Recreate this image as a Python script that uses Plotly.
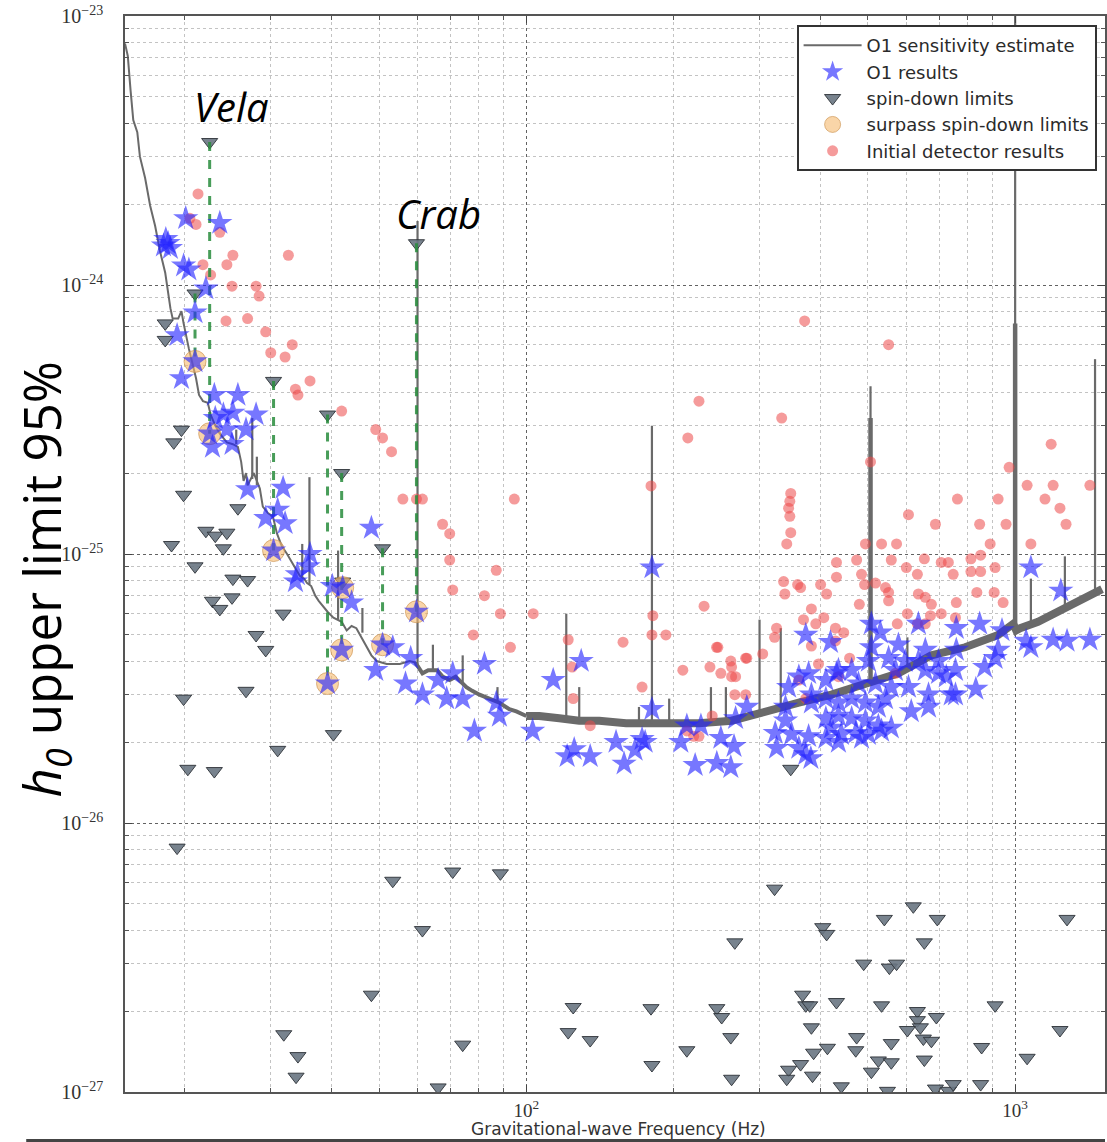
import math
import plotly.graph_objects as go

# ---------------- O1 sensitivity estimate (broadband floor) ----------------
sens_freq = [15.1, 15.3, 15.5, 15.7, 16.0, 16.2, 16.6, 17.0, 17.4, 17.8, 18.25, 18.4, 18.7, 18.9,
             19.4, 19.7, 19.9, 20.4, 20.7, 21.1, 21.4, 21.8, 22.3, 22.6, 23.1, 23.6, 24.4, 25.1,
             25.7, 26.1, 26.4, 26.7, 26.9, 27.7, 28.5, 28.9, 29.6, 30.3, 30.9, 31.6, 32.4, 33.2,
             34.0, 34.4, 35.1, 35.6, 36.3, 37.0, 37.6, 38.3, 39.2, 40.3, 41.9, 42.9, 43.9, 44.9,
             47.1, 48.2, 49.4, 51.8, 54.0, 55.1, 57.7, 59.3, 60.5, 61.3, 63.0, 65.7, 67.4, 69.7,
             71.7, 75.4, 77.5, 80.2, 84.0, 88.1, 92.3, 95.4,
             100, 106.3, 116.8, 128.3, 141, 160, 193, 225.5, 263, 285, 299, 328, 361, 421, 494,
             577, 674, 790, 923, 991, 1005, 1024, 1114, 1224, 1344, 1442, 1506]
sens_h0 = [7.9e-24, 7.1e-24, 5.3e-24, 4.1e-24, 3.7e-24, 3.0e-24, 2.5e-24, 1.97e-24, 1.66e-24, 1.34e-24,
           1.11e-24, 1.0e-24, 8.2e-25, 7.5e-25, 7.5e-25, 8.0e-25, 7.2e-25, 5.8e-25, 5.2e-25, 4.5e-25,
           3.9e-25, 3.7e-25, 3.65e-25, 3.3e-25, 3.0e-25, 2.8e-25, 2.6e-25, 2.56e-25, 2.5e-25, 2.2e-25,
           1.87e-25, 2.0e-25, 1.8e-25, 2.0e-25, 1.75e-25, 1.5e-25, 1.42e-25, 1.38e-25, 1.19e-25,
           1.07e-25, 1.0e-25, 9.3e-26, 8.6e-26, 8.3e-26, 8.1e-26, 7.8e-26, 7.6e-26, 7.0e-26, 6.7e-26,
           6.4e-26, 6.1e-26, 5.8e-26, 5.6e-26, 5.2e-26, 5.4e-26, 5.3e-26, 4.5e-26, 4.2e-26, 4.0e-26,
           3.9e-26, 3.9e-26, 3.9e-26, 4.0e-26, 3.95e-26, 3.7e-26, 3.6e-26, 3.7e-26, 3.7e-26, 3.5e-26,
           3.4e-26, 3.5e-26, 3.2e-26, 3.1e-26, 3.0e-26, 2.9e-26, 2.8e-26, 2.65e-26, 2.6e-26,
           2.5e-26, 2.5e-26, 2.45e-26, 2.4e-26, 2.4e-26, 2.35e-26, 2.35e-26, 2.35e-26, 2.4e-26, 2.5e-26,
           2.54e-26, 2.7e-26, 2.8e-26, 3.0e-26, 3.3e-26, 3.6e-26, 4.2e-26, 4.5e-26, 5.0e-26, 5.5e-26,
           5.2e-26, 5.3e-26, 5.6e-26, 6.1e-26, 6.7e-26, 7.2e-26, 7.4e-26]

# narrow instrumental lines: frequency, floor level, peak level
line_freq = [25.5, 27.5, 28.1, 34.8, 36.0, 41.2, 46.2, 59.9, 64.4, 74.1, 87.3, 120.7, 128.3, 170,
             180.7, 196, 238.6, 256, 300, 331.5, 506, 602, 1000, 1077, 1264, 1457]
line_floor = [2.56e-25, 1.9e-25, 1.8e-25, 8.2e-26, 7.7e-26, 5.7e-26, 5.1e-26, 3.9e-26, 3.7e-26,
              3.3e-26, 2.8e-26, 2.45e-26, 2.4e-26, 2.35e-26, 2.35e-26, 2.35e-26, 2.35e-26, 2.4e-26,
              2.55e-26, 2.7e-26, 3.3e-26, 3.7e-26, 5.5e-26, 5.4e-26, 6.3e-26, 7.2e-26]
line_peak = [2.9e-25, 3.2e-25, 2.3e-25, 1.09e-25, 1.93e-25, 1.03e-25, 6.3e-26, 1.73e-24, 4.6e-26,
             4.2e-26, 3.2e-26, 6.0e-26, 3.2e-26, 2.7e-26, 3.0e-25, 2.9e-26, 3.2e-26, 3.2e-26,
             5.7e-26, 5.3e-26, 4.2e-25, 4.9e-26, 1.0e-23, 8.1e-26, 9.8e-26, 5.3e-25]
# the strongest lines are broadened near their base
wide_line_freq = [506, 1000]
wide_line_floor = [3.3e-26, 5.5e-26]
wide_line_peak = [3.2e-25, 7.2e-25]

# ---------------- O1 upper limits ----------------
o1_freq = [20.1, 23.6, 18.3, 18.7, 18.1, 18.5, 19.9, 20.4, 22.1, 21.0, 19.3, 19.7, 23.0, 25.7, 23.1,
           24.0, 25.1, 28.0, 24.4, 26.7, 22.8, 25.0, 26.9, 31.8, 31.0, 29.3, 32.1, 48.2, 36.1, 35.8,
           34.0, 33.7, 40.1, 43.9, 53.3, 58.0, 49.2, 56.6, 61.3, 66.0, 68.7, 70.7, 74.1, 82.1, 78.3,
           86.8, 88.1, 103, 113.5, 129.5, 125.3, 121.2, 135.1, 152.6, 158.5, 166.9, 172.5, 180.7,
           180.7, 175, 207, 213, 227.6, 221.5, 245.3, 262, 250, 266, 268, 282.5, 323, 325, 344, 339,
           373, 419, 378, 373, 382,
           361, 378, 410, 431, 463, 501, 508, 530, 551, 577, 569, 634, 634, 655, 758, 758, 755, 740,
           665, 613, 665, 605, 558, 518, 543, 494, 463, 435, 410, 383, 410, 435, 463, 494, 525, 558,
           525, 421, 441, 472, 501, 533, 410, 435, 485, 339, 349, 361, 383, 435, 478, 508, 596, 655,
           697, 697,
           846, 940, 1077, 1240, 1053, 1077, 1196, 1277, 831, 723, 755, 923, 910, 866, 1422]
o1_h0 = [1.77e-24, 1.70e-24, 1.48e-24, 1.37e-24, 1.40e-24, 1.43e-24, 1.18e-24, 1.14e-24, 9.7e-25,
         7.9e-25, 6.5e-25, 4.5e-25, 3.9e-25, 3.9e-25, 3.2e-25, 3.3e-25, 3.35e-25, 3.3e-25, 2.9e-25,
         2.9e-25, 2.5e-25, 2.56e-25, 1.74e-25, 1.76e-25, 1.46e-25, 1.36e-25, 1.3e-25, 1.25e-25,
         1.0e-25, 9.0e-26, 8.4e-26, 7.9e-26, 7.6e-26, 6.6e-26, 4.5e-26, 4.1e-26, 3.7e-26, 3.3e-26,
         3.0e-26, 3.4e-26, 2.9e-26, 3.6e-26, 2.9e-26, 3.9e-26, 2.2e-26, 2.8e-26, 2.5e-26, 2.2e-26,
         3.4e-26, 4.0e-26, 1.88e-26, 1.77e-26, 1.77e-26, 2.0e-26, 1.66e-26, 1.87e-26, 2.05e-26,
         8.9e-26, 2.65e-26, 2.0e-26, 2.0e-26, 2.3e-26, 2.3e-26, 1.64e-26, 1.67e-26, 1.61e-26,
         2.07e-26, 1.93e-26, 2.45e-26, 2.7e-26, 2.16e-26, 1.9e-26, 3.2e-26, 2.7e-26, 5.0e-26,
         4.7e-26, 2.1e-26, 1.8e-26, 1.74e-26,
         3.5e-26, 3.6e-26, 3.4e-26, 3.6e-26, 3.7e-26, 4.0e-26, 5.5e-26, 5.1e-26, 4.1e-26, 4.6e-26,
         3.7e-26, 5.5e-26, 4.0e-26, 3.7e-26, 5.3e-26, 4.4e-26, 3.7e-26, 3.0e-26, 2.7e-26, 2.6e-26,
         3.0e-26, 3.2e-26, 3.2e-26, 3.3e-26, 2.9e-26, 2.8e-26, 2.9e-26, 2.8e-26, 2.9e-26, 3.0e-26,
         2.45e-26, 2.5e-26, 2.45e-26, 2.4e-26, 2.3e-26, 2.26e-26, 2.7e-26, 2.26e-26, 2.14e-26,
         2.16e-26, 2.14e-26, 2.2e-26, 2.07e-26, 2.0e-26, 2.07e-26, 2.4e-26, 2.14e-26, 1.9e-26,
         2.8e-26, 3.7e-26, 3.3e-26, 4.5e-26, 4.0e-26, 4.4e-26, 4.0e-26, 3.6e-26,
         5.5e-26, 5.2e-26, 8.9e-26, 7.3e-26, 4.75e-26, 4.5e-26, 4.8e-26, 4.75e-26, 3.15e-26,
         3.5e-26, 3.0e-26, 4.4e-26, 4.1e-26, 3.8e-26, 4.8e-26]

# ---------------- spin-down limits ----------------
spindown_freq = [18.25, 18.25, 19.7, 19.0, 19.9, 25.7, 22.1, 23.1, 24.4, 24.0, 18.8, 21.0, 25.1, 26.9,
                 22.8, 25.0, 23.6, 31.8, 28.0, 29.3, 26.7, 19.9, 40.3, 31.0, 20.3, 23.0,
                 19.3, 53.3, 70.7, 88.5, 61.3, 48.2, 31.9, 34.1, 33.8, 74.1, 66.0, 124.7, 121.8, 135.1,
                 322, 267, 179.9, 180.7, 213, 245.3, 251, 262, 263, 404, 411.5, 540, 619, 693, 652, 490,
                 553, 572, 367.5, 373, 380, 383, 431, 533, 631, 631, 640, 690, 602, 474, 558, 649, 674,
                 910, 854, 1235, 1277, 1058, 387, 413, 472, 364, 344, 341, 385, 525, 558, 508, 652, 441,
                 548, 687, 730, 747, 850, 347.5]
spindown_h0 = [7.2e-25, 6.25e-25, 2.9e-25, 2.6e-25, 1.66e-25, 1.48e-25, 1.22e-25, 1.17e-25, 1.2e-25,
               1.05e-25, 1.08e-25, 9.0e-26, 8.1e-26, 8.0e-26, 6.7e-26, 6.9e-26, 6.25e-26, 6.0e-26,
               5.0e-26, 4.4e-26, 3.1e-26, 2.9e-26, 2.14e-26, 1.87e-26, 1.59e-26, 1.56e-26,
               8.1e-27, 6.1e-27, 6.6e-27, 6.5e-27, 4.0e-27, 2.3e-27, 1.64e-27, 1.36e-27, 1.14e-27,
               1.5e-27, 1.04e-27, 2.07e-27, 1.67e-27, 1.56e-27, 5.7e-27, 3.6e-27, 2.05e-27, 1.26e-27,
               1.43e-27, 2.05e-27, 1.9e-27, 1.6e-27, 1.12e-27, 4.1e-27, 3.87e-27, 4.4e-27, 4.9e-27,
               4.4e-27, 3.6e-27, 3.0e-27, 2.9e-27, 3.0e-27, 2.3e-27, 2.1e-27, 2.1e-27, 1.74e-27,
               2.16e-27, 2.1e-27, 2.0e-27, 1.85e-27, 1.74e-27, 1.9e-27, 1.7e-27, 1.6e-27, 1.52e-27,
               1.58e-27, 1.55e-27, 2.1e-27, 1.47e-27, 1.7e-27, 4.4e-27, 1.34e-27, 1.4e-27, 1.46e-27,
               1.43e-27, 1.27e-27, 1.21e-27, 1.12e-27, 1.15e-27, 1.31e-27, 1.29e-27, 1.19e-27,
               1.32e-27, 1.05e-27, 1.01e-27, 1.03e-27, 1.01e-27, 1.07e-27, 1.07e-27, 1.59e-26]

# pulsars whose O1 limit beats the spin-down limit (incl. Vela and Crab)
beat_freq = [21.0, 22.5, 30.4, 39.2, 42.1, 41.9, 50.8, 59.6]
beat_h0 = [5.2e-25, 2.8e-25, 1.03e-25, 3.3e-26, 7.5e-26, 4.4e-26, 4.6e-26, 6.1e-26]
beat_spindown = [9.3e-25, 3.4e-24, 4.4e-25, 3.3e-25, 7.9e-26, 2.0e-25, 1.05e-25, 1.43e-24]

# ---------------- initial-detector results ----------------
init_freq = [21.3, 20.5, 21.1, 23.6, 25.1, 32.6, 21.8, 24.4, 22.6, 25.0, 28.0, 28.4, 24.3, 26.9, 29.3,
             33.2, 30.0, 32.1, 33.7, 36.1, 34.1, 41.9, 49.2, 50.8, 53.0, 55.9, 59.6, 61.3, 94.5, 67.4,
             69.7, 69.7, 70.7, 86.8, 82.1, 88.5, 103.3, 77.9, 92.8, 121.8, 124.1, 124.7, 135.1, 157.7,
             172.5, 179.9, 181.5, 180.7, 193, 209, 214, 225.5, 231, 245, 237.5, 250, 262, 263, 263,
             268, 267, 281, 281, 240, 213, 220,
             371, 551, 333, 506, 347.5, 346, 344, 346, 347.5, 341, 1185, 972, 1058, 1196, 1422, 762,
             923, 1151, 1235, 1271, 605, 687, 846, 958, 1077, 889, 494, 533, 572,
             431, 474, 558, 652, 706, 730, 812, 850, 431, 485, 599, 631, 747, 812, 850, 910, 336, 338,
             359, 364, 400, 411.5, 492, 518, 543, 551, 551, 634, 655, 674, 835, 906, 945, 758, 480,
             383, 369, 391, 406, 429, 446, 602, 574, 706, 755, 631, 655, 671, 325, 322, 246.5, 304.5,
             282.5, 361, 383, 396, 429, 458.5, 435, 569, 373, 225.5]
init_h0 = [2.18e-24, 1.77e-24, 1.68e-24, 1.57e-24, 1.29e-24, 1.29e-24, 1.19e-24, 1.19e-24, 1.09e-24,
           9.9e-25, 9.9e-25, 9.1e-25, 7.35e-25, 7.5e-25, 6.7e-25, 6.0e-25, 5.6e-25, 5.4e-25, 4.1e-25,
           4.4e-25, 3.9e-25, 3.4e-25, 2.9e-25, 2.7e-25, 2.4e-25, 1.6e-25, 1.6e-25, 1.6e-25, 1.6e-25,
           1.29e-25, 1.19e-25, 9.5e-26, 7.35e-26, 8.7e-26, 7.0e-26, 6.0e-26, 6.0e-26, 5.0e-26,
           4.5e-26, 4.8e-26, 3.8e-26, 2.9e-26, 2.3e-26, 4.7e-26, 3.2e-26, 1.79e-25, 5.9e-26, 5.0e-26,
           5.0e-26, 3.7e-26, 2.7e-25, 3.7e-25, 6.4e-26, 4.5e-26, 3.8e-26, 3.6e-26, 4.0e-26, 3.8e-26,
           3.5e-26, 3.5e-26, 3.0e-26, 4.1e-26, 3.0e-26, 2.5e-26, 2.2e-26, 2.1e-26,
           7.35e-25, 6.0e-25, 3.2e-25, 2.2e-25, 1.68e-25, 1.57e-25, 1.48e-25, 1.38e-25, 1.2e-25,
           1.09e-25, 2.56e-25, 2.1e-25, 1.8e-25, 1.8e-25, 1.8e-25, 1.6e-25, 1.6e-25, 1.6e-25,
           1.48e-25, 1.29e-25, 1.4e-25, 1.29e-25, 1.29e-25, 1.29e-25, 1.09e-25, 1.09e-25, 1.09e-25,
           1.09e-25, 1.09e-25,
           9.3e-26, 9.5e-26, 9.5e-26, 9.6e-26, 9.3e-26, 9.3e-26, 9.6e-26, 9.9e-26, 8.2e-26, 8.4e-26,
           8.9e-26, 8.4e-26, 8.4e-26, 8.6e-26, 8.6e-26, 8.9e-26, 7.9e-26, 7.1e-26, 7.7e-26, 7.5e-26,
           7.7e-26, 7.1e-26, 7.7e-26, 7.8e-26, 7.5e-26, 7.2e-26, 6.7e-26, 7.1e-26, 6.9e-26, 6.5e-26,
           7.2e-26, 7.2e-26, 6.6e-26, 6.6e-26, 6.5e-26, 6.25e-26, 5.7e-26, 5.5e-26, 5.8e-26, 5.3e-26,
           5.1e-26, 6.0e-26, 5.5e-26, 6.0e-26, 5.8e-26, 5.5e-26, 5.5e-26, 5.9e-26, 5.3e-26, 4.9e-26,
           4.5e-26, 4.25e-26, 4.1e-26, 3.4e-26, 4.55e-26, 3.9e-26, 4.75e-26, 4.1e-26, 3.5e-26,
           3.6e-26, 2.9e-26, 2.1e-26]

# axis decorations
x_major = [100, 1000]
x_major_text = ["10<sup>2</sup>", "10<sup>3</sup>"]
y_major = [1e-27, 1e-26, 1e-25, 1e-24, 1e-23]
y_major_text = ["10<sup>\u221227</sup>", "10<sup>\u221226</sup>", "10<sup>\u221225</sup>",
                "10<sup>\u221224</sup>", "10<sup>\u221223</sup>"]

CURVE = "#6a6a6a"
fig = go.Figure()

# sensitivity curve: thin at low frequency, thicker noisy band above ~60 Hz
segments = [(0, 62, 2.0, True), (59, 100, 4.0, False), (99, 2000, 8.0, False)]
for lo, hi, w, show in segments:
    xs = [f for f in sens_freq if lo <= f <= hi]
    ys = [h for f, h in zip(sens_freq, sens_h0) if lo <= f <= hi]
    fig.add_trace(go.Scatter(x=xs, y=ys, mode="lines", line=dict(color=CURVE, width=w),
                             name="O1 sensitivity estimate", legendgroup="sens",
                             showlegend=show, legendrank=1, hoverinfo="skip"))


def vertical_segments(freqs, lows, highs):
    xs, ys = [], []
    for f, a, b in zip(freqs, lows, highs):
        xs += [f, f, None]
        ys += [a, b, None]
    return xs, ys


lx, ly = vertical_segments(line_freq, line_floor, line_peak)
fig.add_trace(go.Scatter(x=lx, y=ly, mode="lines", line=dict(color=CURVE, width=2.2),
                         legendgroup="sens", showlegend=False, hoverinfo="skip"))
wx, wy = vertical_segments(wide_line_freq, wide_line_floor, wide_line_peak)
fig.add_trace(go.Scatter(x=wx, y=wy, mode="lines", line=dict(color=CURVE, width=4.5),
                         legendgroup="sens", showlegend=False, hoverinfo="skip"))

fig.add_trace(go.Scatter(x=init_freq, y=init_h0, mode="markers", name="Initial detector results",
                         marker=dict(symbol="circle", size=11, color="rgba(236,72,72,0.55)",
                                     line=dict(width=0)), legendrank=5))

fig.add_trace(go.Scatter(x=spindown_freq + beat_freq, y=spindown_h0 + beat_spindown, mode="markers",
                         name="spin-down limits",
                         marker=dict(symbol="triangle-down", size=14, color="rgba(105,118,130,0.9)",
                                     line=dict(color="rgba(45,50,55,0.9)", width=1)),
                         legendrank=3))

dx, dy = vertical_segments(beat_freq, beat_spindown, beat_h0)
fig.add_trace(go.Scatter(x=dx, y=dy, mode="lines", showlegend=False, hoverinfo="skip",
                         line=dict(color="rgba(40,140,60,0.85)", width=3, dash="dash")))

fig.add_trace(go.Scatter(x=beat_freq, y=beat_h0, mode="markers", name="surpass spin-down limits",
                         marker=dict(symbol="circle", size=22, color="rgba(245,185,110,0.6)",
                                     line=dict(color="rgba(200,140,70,0.6)", width=1)),
                         legendrank=4))

fig.add_trace(go.Scatter(x=o1_freq + beat_freq, y=o1_h0 + beat_h0, mode="markers", name="O1 results",
                         marker=dict(symbol="star", size=19, color="rgba(35,35,255,0.62)",
                                     line=dict(width=0)), legendrank=2))

x_minor = [20, 30, 40, 50, 60, 70, 80, 90, 200, 300, 400, 500, 600, 700, 800, 900, 2000]
y_minor = [k * 10.0 ** e for e in range(-27, -23) for k in range(2, 10)]

axis_common = dict(type="log", showline=True, linecolor="#555", linewidth=1.5, mirror="allticks",
                   ticks="inside", ticklen=7, tickcolor="#444", zeroline=False,
                   showgrid=True, gridcolor="rgba(70,70,70,0.85)", griddash="dot", gridwidth=1)

fig.update_xaxes(range=[math.log10(15.1), math.log10(1527)], tickvals=x_major, ticktext=x_major_text,
                 ticklabelstandoff=0,
                 tickfont=dict(family="Liberation Serif", size=19, color="#333"),
                 minor=dict(tickvals=x_minor, ticks="inside", ticklen=4, tickcolor="#555",
                            showgrid=True, gridcolor="rgba(170,170,170,0.7)", griddash="dot"),
                 **axis_common)
fig.update_yaxes(range=[-27, -23], tickvals=y_major, ticktext=y_major_text, ticklabelstandoff=16,
                 tickfont=dict(family="Liberation Serif", size=20, color="#333"),
                 minor=dict(tickvals=y_minor, ticks="inside", ticklen=4, tickcolor="#555",
                            showgrid=True, gridcolor="rgba(170,170,170,0.7)", griddash="dot"),
                 **axis_common)

fig.add_annotation(x=math.log10(24.9), y=math.log10(4.6e-24), xref="x", yref="y", text="<i>Vela</i>",
                   showarrow=False, font=dict(family="Open Sans", size=40, color="black"))
fig.add_annotation(x=math.log10(66.1), y=math.log10(1.85e-24), xref="x", yref="y", text="<i>Crab</i>",
                   showarrow=False, font=dict(family="Open Sans", size=40, color="black"))
fig.add_annotation(x=-0.083, y=0.476, xref="paper", yref="paper", xanchor="center", yanchor="middle",
                   textangle=-90, showarrow=False,
                   text="<i>h<sub>0</sub></i> upper limit 95%",
                   font=dict(family="Open Sans", size=51, color="black"))
fig.add_annotation(x=0.504, y=-0.0340, xref="paper", yref="paper", xanchor="center", yanchor="middle",
                   showarrow=False, text="Gravitational-wave Frequency (Hz)",
                   font=dict(family="DejaVu Sans", size=17, color="#333"))
fig.add_shape(type="line", xref="paper", yref="paper", x0=-0.1008, x1=1.0, y0=-0.0455, y1=-0.0455,
              line=dict(color="#444", width=4))

fig.update_layout(
    width=1107, height=1142,
    margin=dict(l=125, r=0, t=16, b=50),
    paper_bgcolor="white", plot_bgcolor="white",
    legend=dict(x=0.6853, y=0.9916, xanchor="left", yanchor="top", bgcolor="white",
                bordercolor="#333", borderwidth=2, itemwidth=58,
                font=dict(family="DejaVu Sans", size=18, color="#2a2a2a"), tracegroupgap=0),
)

fig.write_html("out.html")
